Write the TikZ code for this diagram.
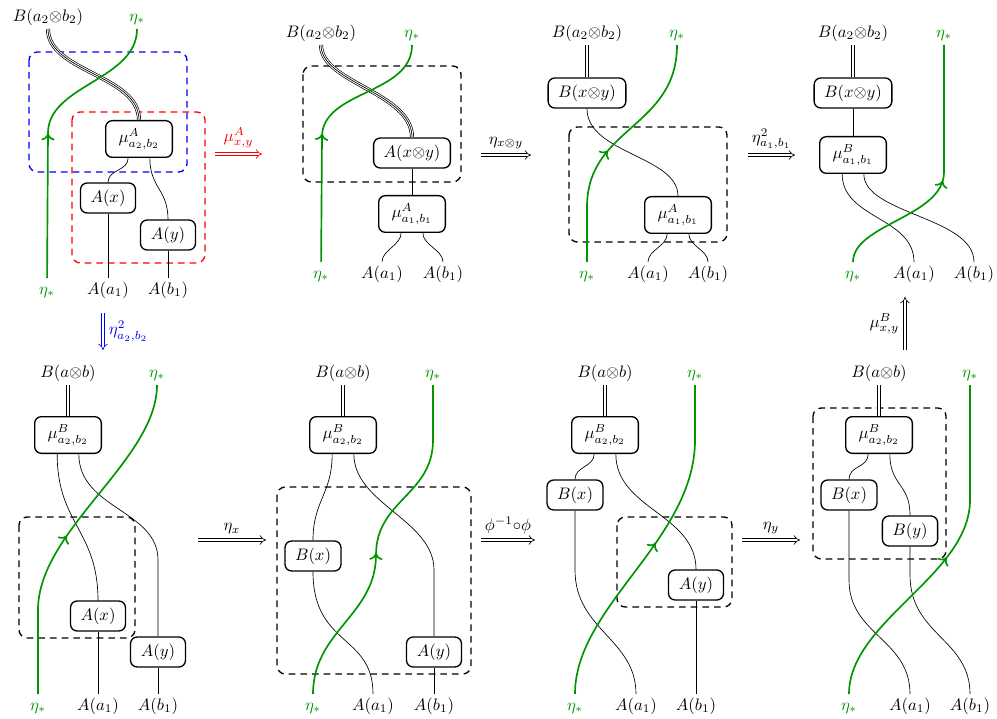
\documentclass[tikz,border=0pt]{standalone}
\usepackage{amsmath,amssymb}
\usetikzlibrary{arrows.meta}
\usetikzlibrary{decorations.markings}
\definecolor{etagreen}{rgb}{0,0.58,0}
\tikzset{
	box/.style={draw,thick,rounded corners=4pt,fill=white,minimum width=33pt,minimum height=18pt,inner xsep=6pt},
	mubox/.style={box,minimum width=40pt,minimum height=22pt},
	lab/.style={text height=7.5pt,text depth=2.5pt,inner sep=2pt},
	wire/.style={thin},
	dwire/.style={thin,double,double distance=1.2pt},
	twire/.style={line width=2.4pt,postaction={draw=white,line width=1.6pt},postaction={draw=black,line width=0.4pt}},
	eta/.style={etagreen,line width=1pt},
	flow/.style={postaction={decorate,decoration={markings,mark=at position #1 with {\arrow{To[length=4pt,width=8pt]}}}}},
	dashbox/.style={thick,dash pattern=on 4pt off 3pt,rounded corners=5pt},
	nat/.style={thin,double,double distance=1.6pt,-{Implies}}
}
\begin{document}
\begin{tikzpicture}[x=0.6pt,y=-0.6pt]
\useasboundingbox (0,0) rectangle (997,719);

%Frames
\draw[dashbox,blue] (29,52) rectangle (187,172);
\draw[dashbox,red] (72,112) rectangle (205,263);
\draw[dashbox] (303,66) rectangle (461,182);
\draw[dashbox] (569,127) rectangle (727,242);
\draw[dashbox] (19,517) rectangle (135,638);
\draw[dashbox] (277,487) rectangle (471,674);
\draw[dashbox] (617,517) rectangle (732,607);
\draw[dashbox] (813,408) rectangle (946,559);

%Panel 1
\node[lab] (p1B) at (48,17) {$B(a_2{\otimes}b_2)$};
\node[lab,etagreen] (p1et) at (137,17) {$\eta_*$};
\node[mubox] (p1mu) at (139,139) {$\mu^A_{a_2,b_2}$};
\node[box] (p1ax) at (108,198) {$A(x)$};
\node[box] (p1ay) at (168,235) {$A(y)$};
\node[lab,etagreen] (p1eb) at (47,290) {$\eta_*$};
\node[lab] (p1a1) at (108,290) {$A(a_1)$};
\node[lab] (p1b1) at (168,290) {$A(b_1)$};
\draw[twire] (p1B) .. controls +(0,55) and +(0,-45) .. (p1mu.north);
\draw[wire] ([xshift=-6.5pt]p1mu.south) .. controls +(0,13) and +(0,-13) .. (p1ax.north);
\draw[wire] ([xshift=6.5pt]p1mu.south) .. controls +(0,30) and +(0,-30) .. (p1ay.north);
\draw[wire] (p1ax) -- (p1a1);
\draw[wire] (p1ay) -- (p1b1);
\draw[eta,flow=0.5] (p1eb) -- (48,133) .. controls (48,85) and (137,80) .. (p1et);

%Panel 2
\node[lab] (p2B) at (321,33) {$B(a_2{\otimes}b_2)$};
\node[lab,etagreen] (p2et) at (412,33) {$\eta_*$};
\node[box] (p2axy) at (412,153) {$A(x{\otimes}y)$};
\node[mubox] (p2mu) at (412,214) {$\mu^A_{a_1,b_1}$};
\node[lab,etagreen] (p2eb) at (321,274) {$\eta_*$};
\node[lab] (p2a1) at (382,274) {$A(a_1)$};
\node[lab] (p2b1) at (443,274) {$A(b_1)$};
\draw[twire] (p2B) .. controls +(0,50) and +(0,-45) .. (p2axy.north);
\draw[wire] (p2axy) -- (p2mu);
\draw[wire] ([xshift=-6.5pt]p2mu.south) .. controls +(0,12) and +(0,-12) .. (p2a1.north);
\draw[wire] ([xshift=6.5pt]p2mu.south) .. controls +(0,12) and +(0,-12) .. (p2b1.north);
\draw[eta,flow=0.49] (p2eb) -- (322,137) .. controls (322,90) and (412,95) .. (p2et);

%Panel 3
\node[lab] (p3B) at (587,33) {$B(a_2{\otimes}b_2)$};
\node[lab,etagreen] (p3et) at (677,33) {$\eta_*$};
\node[box] (p3bxy) at (587,93) {$B(x{\otimes}y)$};
\node[mubox] (p3mu) at (678,215) {$\mu^A_{a_1,b_1}$};
\node[lab,etagreen] (p3eb) at (587,274) {$\eta_*$};
\node[lab] (p3a1) at (648,274) {$A(a_1)$};
\node[lab] (p3b1) at (708,274) {$A(b_1)$};
\draw[dwire] (p3B) -- (p3bxy);
\draw[wire] (p3bxy.south) .. controls +(0,45) and +(0,-40) .. (p3mu.north);
\draw[wire] ([xshift=-6.5pt]p3mu.south) .. controls +(0,12) and +(0,-12) .. (p3a1.north);
\draw[wire] ([xshift=6.5pt]p3mu.south) .. controls +(0,12) and +(0,-12) .. (p3b1.north);
\draw[eta,flow=0.47] (p3eb) -- (587,207) .. controls (587,127) and (677,128) .. (p3et);

%Panel 4
\node[lab] (p4B) at (853,33) {$B(a_2{\otimes}b_2)$};
\node[lab,etagreen] (p4et) at (944,33) {$\eta_*$};
\node[box] (p4bxy) at (853,93) {$B(x{\otimes}y)$};
\node[mubox] (p4mu) at (853,155) {$\mu^B_{a_1,b_1}$};
\node[lab,etagreen] (p4eb) at (853,274) {$\eta_*$};
\node[lab] (p4a1) at (914,274) {$A(a_1)$};
\node[lab] (p4b1) at (974,274) {$A(b_1)$};
\draw[dwire] (p4B) -- (p4bxy);
\draw[wire] (p4bxy) -- (p4mu);
\draw[wire] ([xshift=-6.5pt]p4mu.south) .. controls +(0,45) and +(0,-45) .. (p4a1.north);
\draw[wire] ([xshift=6.5pt]p4mu.south) .. controls +(0,40) and +(0,-45) .. (p4b1.north);
\draw[eta,flow=0.48] (p4eb) .. controls +(0,-50) and +(0,45) .. (944,172) -- (p4et);

%Panel 5
\node[lab] (p5B) at (68,373) {$B(a{\otimes}b)$};
\node[lab,etagreen] (p5et) at (157,373) {$\eta_*$};
\node[mubox] (p5mu) at (68,435) {$\mu^B_{a_2,b_2}$};
\node[box] (p5ax) at (98,616) {$A(x)$};
\node[box] (p5ay) at (158,652) {$A(y)$};
\node[lab,etagreen] (p5eb) at (38,706) {$\eta_*$};
\node[lab] (p5a1) at (98,706) {$A(a_1)$};
\node[lab] (p5b1) at (158,706) {$A(b_1)$};
\draw[dwire] (p5B) -- (p5mu);
\draw[wire] ([xshift=-6.5pt]p5mu.south) .. controls +(0,70) and +(0,-70) .. (p5ax.north);
\draw[wire] ([xshift=6.5pt]p5mu.south) .. controls +(0,55) and +(0,-50) .. (158,560) -- (p5ay.north);
\draw[wire] (p5ax) -- (p5a1);
\draw[wire] (p5ay) -- (p5b1);
\draw[eta,flow=0.48] (p5eb) -- (38,610) .. controls (38,530) and (157,460) .. (p5et);

%Panel 6
\node[lab] (p6B) at (343,373) {$B(a{\otimes}b)$};
\node[lab,etagreen] (p6et) at (433,373) {$\eta_*$};
\node[mubox] (p6mu) at (343,435) {$\mu^B_{a_2,b_2}$};
\node[box] (p6bx) at (313,556) {$B(x)$};
\node[box] (p6ay) at (434,652) {$A(y)$};
\node[lab,etagreen] (p6eb) at (313,706) {$\eta_*$};
\node[lab] (p6a1) at (373,706) {$A(a_1)$};
\node[lab] (p6b1) at (434,706) {$A(b_1)$};
\draw[dwire] (p6B) -- (p6mu);
\draw[wire] ([xshift=-6.5pt]p6mu.south) .. controls +(0,40) and +(0,-40) .. (p6bx.north);
\draw[wire] ([xshift=6.5pt]p6mu.south) .. controls +(0,50) and +(0,-50) .. (434,570) -- (p6ay.north);
\draw[wire] (p6bx.south) .. controls +(0,75) and +(0,-60) .. (p6a1.north);
\draw[wire] (p6ay) -- (p6b1);
\draw[eta,flow=0.46] (p6eb) .. controls +(0,-75) and +(0,60) .. (376,555) .. controls +(0,-55) and +(0,55) .. (433,440) -- (p6et);

%Panel 7
\node[lab] (p7B) at (605,373) {$B(a{\otimes}b)$};
\node[lab,etagreen] (p7et) at (695,373) {$\eta_*$};
\node[mubox] (p7mu) at (605,435) {$\mu^B_{a_2,b_2}$};
\node[box] (p7bx) at (575,495) {$B(x)$};
\node[box] (p7ay) at (696,585) {$A(y)$};
\node[lab,etagreen] (p7eb) at (575,706) {$\eta_*$};
\node[lab] (p7a1) at (636,706) {$A(a_1)$};
\node[lab] (p7b1) at (696,706) {$A(b_1)$};
\draw[dwire] (p7B) -- (p7mu);
\draw[wire] ([xshift=-6.5pt]p7mu.south) .. controls +(0,13) and +(0,-13) .. (p7bx.north);
\draw[wire] ([xshift=6.5pt]p7mu.south) .. controls +(0,55) and +(0,-55) .. (p7ay.north);
\draw[wire] (p7bx.south) -- (575,570) .. controls +(0,60) and +(0,-55) .. (p7a1.north);
\draw[wire] (p7ay) -- (p7b1);
\draw[eta,flow=0.51] (p7eb) .. controls +(0,-100) and +(0,100) .. (695,440) -- (p7et);

%Panel 8
\node[lab] (p8B) at (879,373) {$B(a{\otimes}b)$};
\node[lab,etagreen] (p8et) at (970,373) {$\eta_*$};
\node[mubox] (p8mu) at (879,435) {$\mu^B_{a_2,b_2}$};
\node[box] (p8bx) at (849,495) {$B(x)$};
\node[box] (p8by) at (910,531) {$B(y)$};
\node[lab,etagreen] (p8eb) at (849,706) {$\eta_*$};
\node[lab] (p8a1) at (910,706) {$A(a_1)$};
\node[lab] (p8b1) at (970,706) {$A(b_1)$};
\draw[dwire] (p8B) -- (p8mu);
\draw[wire] ([xshift=-6.5pt]p8mu.south) .. controls +(0,14) and +(0,-14) .. (p8bx.north);
\draw[wire] ([xshift=6.5pt]p8mu.south) .. controls +(0,32) and +(0,-32) .. (p8by.north);
\draw[wire] (p8bx.south) -- (849,580) .. controls +(0,55) and +(0,-55) .. (p8a1.north);
\draw[wire] (p8by.south) -- (910,575) .. controls +(0,60) and +(0,-55) .. (p8b1.north);
\draw[eta,flow=0.49] (p8eb) .. controls +(0,-85) and +(0,75) .. (970,500) -- (p8et);

%Moves
\coordinate (m1s) at (215,154); \coordinate (m1e) at (262,154);
\coordinate (m2s) at (481,155); \coordinate (m2e) at (531,155);
\coordinate (m3s) at (748,155); \coordinate (m3e) at (795,155);
\coordinate (m4s) at (103,313); \coordinate (m4e) at (103,350);
\coordinate (m5s) at (905,350); \coordinate (m5e) at (905,297);
\coordinate (m6s) at (198,540); \coordinate (m6e) at (266,540);
\coordinate (m7s) at (481,540); \coordinate (m7e) at (535,540);
\coordinate (m8s) at (742,540); \coordinate (m8e) at (800,540);
\draw[nat,red] (m1s) -- node[above] {$\mu^A_{x,y}$} (m1e);
\draw[nat] (m2s) -- node[above] {$\eta_{x{\otimes}y}$} (m2e);
\draw[nat] (m3s) -- node[above] {$\eta^2_{a_1,b_1}$} (m3e);
\draw[nat,blue] (m4s) -- node[right] {$\eta^2_{a_2,b_2}$} (m4e);
\draw[nat] (m5s) -- node[left] {$\mu^B_{x,y}$} (m5e);
\draw[nat] (m6s) -- node[above] {$\eta_x$} (m6e);
\draw[nat] (m7s) -- node[above] {$\phi^{-1}{\circ}\phi$} (m7e);
\draw[nat] (m8s) -- node[above] {$\eta_y$} (m8e);
\end{tikzpicture}
\end{document}
